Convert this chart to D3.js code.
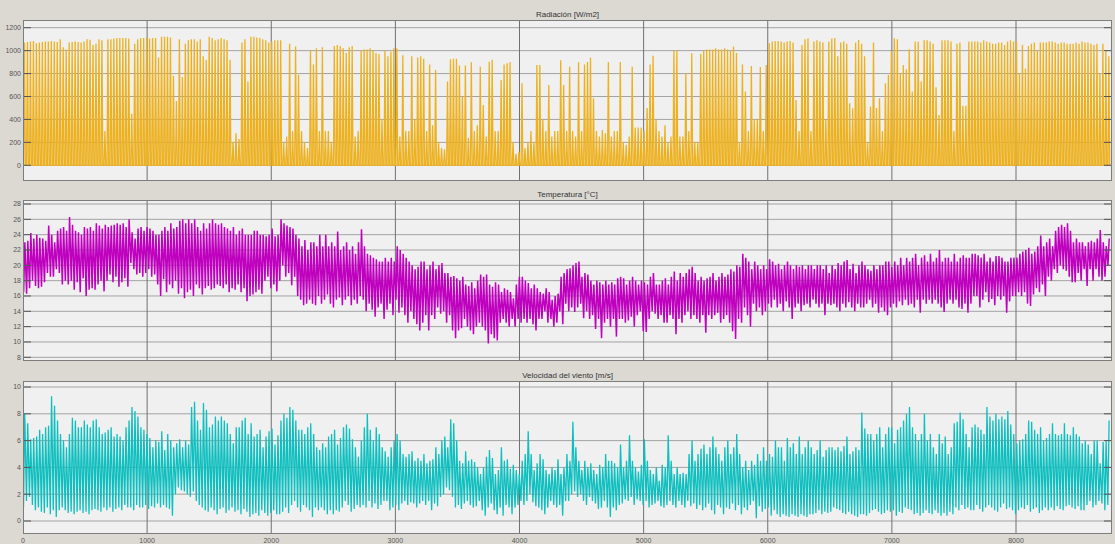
<!DOCTYPE html>
<html><head><meta charset="utf-8">
<script src="https://cdn.jsdelivr.net/npm/d3@7"></script>
<style>body{margin:0;background:#dcd9d3}svg{display:block}</style>
</head><body>
<svg id="c" width="1115" height="544"></svg>
<script>
// ---- data: daily values (365 days, hourly axis 0..8760) ----
const radiationPeak = [
1070,1075,1080,1085,1065,1070,1075,1080,1080,1085,
1080,1075,1100,1030,1010,1070,1075,1080,1075,1070,
1080,1100,1095,1050,1060,1100,1090,300,1100,1100,
1105,1110,1110,1110,1110,1105,450,1060,1100,1110,
1110,1115,1105,1110,1110,940,1120,1120,1120,1115,
780,560,1100,770,1060,1090,1100,1100,1080,1100,
950,920,1120,1110,1090,1100,1110,1100,1090,920,
200,280,230,1070,1100,730,1120,1120,1115,1110,
1100,1090,1070,1080,1090,1090,1090,200,250,1060,
300,1035,790,300,200,150,1006,880,1020,300,
1030,300,300,200,1040,1050,1040,1020,980,1030,
1040,250,300,1000,1010,1010,1020,1000,980,970,
400,1000,950,990,1020,1020,250,960,300,300,
950,400,940,950,930,300,880,350,830,200,
150,140,730,925,930,930,870,600,870,240,
898,300,350,860,526,250,904,920,300,300,
744,880,890,900,200,100,120,715,150,200,
300,200,875,875,400,300,700,250,300,300,
915,700,300,860,300,250,898,300,880,900,
940,584,300,250,308,280,900,250,300,300,
900,200,180,250,860,330,330,330,300,500,
880,956,400,300,250,350,200,250,1000,1000,
250,250,802,300,977,200,200,970,1000,1010,
1010,1010,1020,1010,1010,1020,1010,1000,1035,980,
200,880,643,300,866,400,400,857,300,875,
1064,1080,1085,1085,1080,1070,1080,1084,1070,570,
300,1049,1100,1108,300,1080,1090,1080,1070,400,
1080,1105,1110,950,1070,1080,1060,540,497,1070,
1093,1060,950,200,512,1070,500,584,300,715,
788,1000,1108,1100,800,875,837,1012,643,1080,
1080,730,1090,1090,1080,1060,680,439,1090,1090,
1090,1080,300,1060,1070,520,520,1080,1080,1080,
1080,1070,1090,1080,1070,1060,1060,1070,1070,1050,
1080,1090,1080,1080,800,1050,845,1040,1060,1070,
1000,1070,1070,1070,1080,1080,1070,1060,1070,1070,
1060,1060,1060,1070,1060,1080,1070,1070,1060,1050,
1060,800,1060,1000,950];

const tempMax = [
23,23.2,24.2,23.5,24,23.6,23.5,23.2,25.2,24,
23,24.5,24.8,25,24.5,26.3,25.3,24.5,24.3,24,
25,24.8,25,24.5,25.5,25.2,24.8,25.3,25,25.2,
25.3,25.5,25.3,25.5,25,26,24.3,23.5,24.8,25,
24.5,25,24.8,24.5,24,24,24.5,25,24.5,25.5,
24.8,25,25.8,26,25.5,26,25.5,26,25,24.5,
25.5,24.8,25.5,26,25.5,25.3,25.5,25,24.8,24.5,
25,24,24.5,24.8,24,24,24,24.5,24.5,24,
24,23.8,24,24.8,23.8,24,26,25.5,25.2,25,
24.8,24,23.5,22.5,23.3,22,23,23,22.5,24,
22.5,24,22.5,23,22.5,24.4,22,22.5,23,22,
22.5,21.5,23,24.7,22.5,21.5,21.3,21,20.8,20.5,
20.5,21,20.5,21,20.5,22.5,22,21.5,21,20.5,
20,19.5,19.8,20.5,20.5,19.5,20,20.5,19.5,20,
20.3,19,19,18.5,18.6,18.3,18,18.5,17.5,17.3,
17.8,17,18,18.8,18.5,18.8,17.5,17.2,17.8,17.5,
16.5,17,16.8,16.5,15.7,17.5,18.5,18.5,18,17.7,
17,17.5,17,16.5,16.3,17,16.5,15.5,16,16.3,
18.5,19,19.5,19.6,20,20.3,20.5,18.5,19,18.8,
18,17.5,18,17.8,17.5,18,17.5,17.8,17.5,18.3,
18.5,18.3,17.5,18,18.5,18,17.5,18,17.8,17.5,
18.5,19,17.5,17.5,18,18.3,17.5,18.5,19.2,18,
19,18.5,19,19.5,19.8,19,18,18.5,18,18.3,
18.5,19,18,18.5,19,18.5,18.8,19.5,19.2,20,
19.8,21.5,21,20.5,19.5,20.5,20,19.5,20,19.5,
20.8,20.5,20,20.2,19.5,20,20.5,20,19.5,20,
19.8,20,19.5,20,20,19.5,20,20,19.5,20,
19,20,19.5,20.3,20,20.5,20.7,19.5,20.2,19,
20,20.5,20,19.5,19.3,20,19.5,20,20,20.5,
20.5,19.8,20.5,20,21,20,21,20.5,21,21.5,
20,21,21.3,20.5,21.5,20.5,21,22,20.5,21,
21,20.5,21.5,20.5,21,21.3,21,21,21.5,21.5,
21.3,21,21.5,20.5,21,20.5,21.2,21.2,21,20.5,
20.5,21,21,21,21.5,21.8,22,22.3,21.5,21.8,
22.5,23.9,22.5,23,23.5,22.5,24.5,25,25.3,25,
25.5,24.5,23,23.5,23,23,22.5,23,23.2,23,
23.5,24.6,23,22.5,23.5];

const tempMin = [
16.5,16.3,17,18,17.3,17,17.2,17.8,19,18.5,
18.5,19.5,19,17.5,18,17.5,18,16.8,17.8,16.5,
18.3,16,16.8,17,16.8,17.5,18,16.6,18,18.8,
17.8,18.5,17.2,17.8,18.3,17.2,20.3,19.5,18.8,19,
18.5,19,19.5,18.5,18.8,17.5,16,18.2,16.5,17.5,
17,18,16.3,17,15.7,16.5,16.8,16,17.5,17,
16.2,17,17.3,16.8,17,17.5,17.3,17,17.5,16.5,
17,16.8,17.5,16.5,17,15.3,16,16.2,16.5,16.8,
16.3,18,18.5,17,17.5,16.6,18,20,18.5,19,
17.4,18.5,16,15.5,14.8,15,15.5,15,14.8,16,
15,15.5,16.2,15,14.5,15.5,15.8,14.8,15.5,16,
14.8,15.5,15,16,15.5,14,15,14.2,13.3,14.5,
15,13,14.2,15,13.5,15.5,13.8,14.5,13.5,12.5,
14,13,12.3,11.5,12.5,13.5,11.5,13.5,13,14.5,
13.7,14,12.5,13.5,11.5,10.5,11.5,11.8,13,12,
11.5,11,12,12.5,12,11.5,9.8,11,10.5,10.2,
12.5,13,12.5,12,13,12,13,12.5,13,12.5,
13,12.3,11.5,13,13,14,12.5,13,12,12.5,
14,12.3,15,14,14.5,13.9,14.5,15,13.1,14,
13,13.5,11.7,13,10.5,12.5,13,12,13,10.7,
13,13,12.5,12.8,13.3,12,13.5,14,11.4,11.3,
13,14,13.7,13,13.5,12.5,12.5,13.5,13,11,
13,12.5,13.5,14,13,13.5,13,12.5,13.5,11.2,
13.5,13,13.5,13.8,12.5,13,13.5,12.5,11.4,10.4,
13,12.5,14.5,13.5,12,15,14,14.5,13.5,14,
15,14.5,15.5,14.5,15,14,15.3,14.5,13,14.5,
15,14,14.8,15,14.5,15.5,15,14.5,15,13.5,
15,14.8,15,14.5,14,15,14.5,15.2,14.5,14,
15,14.5,14.5,15,15.5,14.5,15,13.8,14.5,14,
13.5,14.5,15,14.5,15.3,14.8,15.5,14.8,15,14.5,
15.5,13.8,15.5,15,15.5,15,15.5,15,14.5,13.9,
15,15.5,15,15.5,14.5,14.3,15,13.8,15,16,
16,14.5,15.5,16.5,15.2,15.6,14.8,16,15.5,16,
13.8,15.3,16,16,16.5,16,16.5,15,14.7,16.2,
17,16.5,17.5,16,18.5,18,19.5,19,20,19.5,
19.3,18.5,17.8,17.8,19,18,19.5,17.3,19.5,18,
19.5,18.5,18,18.5,20];

const windMax = [
8,7.3,6.1,6.2,6.3,6.8,6.5,7,7.1,9.3,
8.6,7.5,6.5,6,5.5,6.5,7.7,7.5,7,7,
7.5,7.2,7,7.5,7.6,7,6.5,6.6,6.8,7,
6.3,6.5,6.3,6,7,7.5,8.5,8.2,7.8,7,
6.8,6.5,6.2,5.5,6,5.9,6.7,5.3,6.5,6,
5.5,5.8,6.1,5.5,6,5.7,8.5,8.9,7.5,6.8,
8.8,8.3,7,7.2,7.8,7.5,7.8,7.5,7.3,6.5,
5.8,7,7,7.5,7.7,6.5,7.3,6.3,6.5,6.8,
5.5,6.3,6.7,6.9,5.7,6.4,7.5,8,7.7,8.5,
8.3,7.5,6.8,6.8,6.5,7,7.3,6.5,5.5,5.3,
5.8,5.5,6.3,6.5,6.8,5.7,6.2,7,7.2,6.9,
6.1,5.5,4.8,6,7,8,6.8,6,7,6.5,
5.5,5.2,4.8,5.5,6,6.5,6,5,4.8,5,
5.2,4.5,4.7,4.5,5,4.3,4.5,4.6,5.5,5,
6,6.3,5.5,7.6,7.3,6,4.5,4.3,5.2,4.5,
4.6,4.4,4,3.5,4,4.8,5.3,4.7,3.5,3.8,
5.5,4.5,4.6,3.9,4.2,3.8,3.5,4.5,5,6.7,
5,3.8,4.3,5,4.6,3.8,3.5,4,3.8,4.6,
3.5,4,5,4.5,7.4,5.5,4.5,3.8,4.5,4,
4.3,3.8,3.5,4.2,4,5,4.5,4.5,4.3,4,
5.7,4,4.5,6.4,4.5,4,3.7,4.2,6.1,4.5,
3.8,3.5,4,3,4.2,4,6.4,4.5,3.5,4,
3.5,3.6,3.5,5,6,4.5,5,5.4,5.7,5,
5.5,6.3,5.5,5,4.5,5.5,6,5,5.5,6.5,
5,4,4.5,3.8,4.5,4.2,5,4.5,5.5,4.5,
5,4.8,6,5.5,5.5,4.5,6.2,5.5,5.8,5,
6.3,5,5.5,6,5.5,5,5.3,6,4.8,5.3,
5.5,5.5,5.3,5.5,5.2,5.6,6.3,5,5.2,5.5,
5.3,8.1,6.9,6.5,6.5,6,6.5,7,5.5,6.5,
7,7,5.8,6.8,7,7.5,8,8.5,7,6.5,
6,6.5,8,6,6.5,5.5,5,6.5,5.8,6.3,
5,5.5,7.3,7.4,8.1,7.6,6.5,5.5,7,7.2,
7,6.8,6.5,8.5,7.8,7.5,8,7.6,7.8,7.6,
8.2,7.2,6.5,5.8,6,6.1,6.5,7.5,7.4,6.8,
6.5,7,6,6.2,6.5,7.3,6.5,6.4,6.5,7.3,
6.5,6.4,7,6.5,6.3,5.8,6,5.7,5,6,
6,4.3,5.9,6,7.5];

const windMin = [
1,1.5,1.8,1.2,0.8,1,0.7,0.6,1,0.5,
0.8,0.3,0.8,1,0.8,0.6,0.7,0.5,0.7,0.8,
0.6,0.7,0.5,0.8,0.9,0.8,0.7,1,0.8,1,
0.7,0.9,1,0.8,1.2,1,1,0.8,1.2,1,
1,1.2,0.9,1.1,1,1.3,1,1.2,1,0.9,
0.4,2,2.5,2.3,2.2,2,1.8,2.2,1.5,1.2,
1,0.8,0.7,1,0.8,0.5,0.9,1,0.6,0.8,
1,0.7,0.8,0.5,0.9,0.7,0.3,0.5,0.6,0.4,
0.8,0.6,0.4,0.6,0.8,0.5,0.5,0.7,1,0.6,
1.2,1.5,1,0.7,1.2,1,0.8,0.3,1,0.8,
1,0.8,0.5,0.8,0.5,0.8,0.7,1,1.5,1.2,
0.7,0.9,1.2,1,1.2,1,1.5,1,1.3,0.9,
1.2,1.5,1.5,0.8,1,1.2,0.8,1.3,1.5,1.2,
1.4,1.3,1,1.3,1.5,1.2,1.5,0.8,1.3,1.1,
1.8,2,2.5,2.3,1.8,1,1.2,0.9,1.3,1.5,
1.2,1,1.1,1.5,0.8,0.4,1,1.3,0.8,0.5,
1,0.4,1.2,1,0.5,1,1.2,1.5,1.2,1.5,
2,1.4,1.1,1,0.8,0.5,1,1.5,1.2,1,
1.2,0.4,1.5,1.5,2,2.2,1.8,2,1.5,1.2,
1.8,1.5,1.3,0.9,1,1.5,1,0.3,1,0.8,
1.2,1.3,1.6,1.5,1.8,1.2,1.6,1.5,1.2,1.5,
1,1.2,1.3,1.5,1.1,1,1.2,1.5,1.2,1,
1.5,1.2,1,1.5,1.1,1.3,0.9,1.2,0.8,1,
1.3,0.8,0.5,1.2,1,0.5,1,0.9,1.3,0.8,
1.2,0.5,1,0.8,1.2,1.5,0.2,1.1,0.7,0.9,
1,0.4,0.8,0.5,0.3,0.5,0.4,0.3,0.5,0.4,
0.3,0.5,0.4,0.3,0.5,0.5,0.6,0.8,0.5,0.7,
0.6,0.7,1,0.9,0.8,0.6,0.5,0.7,0.5,0.4,
0.3,0.5,0.5,0.4,0.6,0.8,0.9,0.7,0.5,0.6,
0.8,0.7,0.8,0.4,0.7,0.6,1,0.9,0.8,0.5,
0.6,0.4,0.6,0.8,0.6,0.5,0.8,0.6,0.4,0.6,
0.4,0.7,0.5,1,0.8,1.2,0.9,1,0.8,0.8,
1.2,0.9,0.7,1,1.2,1,0.8,0.7,1,1.3,
0.9,1,0.8,0.5,0.8,1,0.9,1.2,0.7,0.9,
1,0.6,0.8,1,0.8,1,0.8,1.1,0.9,0.8,
1.1,1.2,1,0.9,1.1,0.8,0.8,1.2,1.5,1,
1.2,1.5,1.3,0.8,1.2];

const xTicks = [0,1000,2000,3000,4000,5000,6000,7000,8000];
const radTicks = [0,200,400,600,800,1000,1200];
const tempTicks = [8,10,12,14,16,18,20,22,24,26,28];
const windTicks = [0,2,4,6,8,10];
const titles = ["Radiación [W/m2]","Temperatura [°C]","Velocidad del viento [m/s]"];

// ---- drawing ----
const svg = d3.select("#c");
const W = 1115, H = 544;
svg.append("rect").attr("width",W).attr("height",H).attr("fill","#dcd9d3");

const left = 23, right = 1112;
const x = d3.scaleLinear().domain([0,8000]).range([23,1016]);
const font = "'Liberation Sans', Arial, sans-serif";

// series -> point lists (one peak per day; diurnal position of min/max)
const radPts = [];
radiationPeak.forEach((p,d)=>{ radPts.push([d*24+5,0],[d*24+12,p],[d*24+19,0]); });
const tempPts = [];
tempMin.forEach((m,d)=>{ tempPts.push([d*24+5,m],[d*24+15,tempMax[d]]); });
const windPts = [];
windMin.forEach((m,d)=>{ windPts.push([d*24+4,m],[d*24+14,windMax[d]]); });

const panels = [
  {title:titles[0], top:20, bottom:181, dom:[0,1200], rng:[165.3,27.7], ticks:radTicks, titleY:14.5, color:"#EDB120", sw:1.3, pts:radPts},
  {title:titles[1], top:200, bottom:361, dom:[8,28], rng:[357.3,204], ticks:tempTicks, titleY:194.5, color:"#BF00BF", sw:1.5, pts:tempPts},
  {title:titles[2], top:381, bottom:534, dom:[0,10], rng:[521,387], ticks:windTicks, titleY:375.5, color:"#0FBFBF", sw:1.3, pts:windPts}
];

panels.forEach((P,i)=>{
  const y = d3.scaleLinear().domain(P.dom).range(P.rng);
  const g = svg.append("g");
  g.append("rect").attr("x",left).attr("y",P.top).attr("width",right-left).attr("height",P.bottom-P.top)
    .attr("fill","#f0f0f0");
  g.selectAll(".hg").data(P.ticks).enter().append("line")
    .attr("x1",left).attr("x2",right).attr("y1",d=>y(d)).attr("y2",d=>y(d))
    .attr("stroke","#a3a3a3").attr("stroke-width",1);
  g.selectAll(".vg").data(xTicks.slice(1)).enter().append("line")
    .attr("x1",d=>x(d)).attr("x2",d=>x(d)).attr("y1",P.top).attr("y2",P.bottom)
    .attr("stroke","#707070").attr("stroke-width",1);
  const clipId = "clip"+i;
  svg.append("clipPath").attr("id",clipId).append("rect")
    .attr("x",left).attr("y",P.top).attr("width",right-left).attr("height",P.bottom-P.top);
  const line = d3.line().x(p=>x(p[0])).y(p=>y(p[1]));
  g.append("path").attr("d",line(P.pts)).attr("fill","none").attr("stroke",P.color)
    .attr("stroke-width",P.sw).attr("stroke-linejoin","miter").attr("clip-path",`url(#${clipId})`);
  g.selectAll(".tl").data(P.ticks).enter().append("line")
    .attr("x1",left).attr("x2",left+8).attr("y1",d=>y(d)).attr("y2",d=>y(d))
    .attr("stroke","#555").attr("stroke-width",1);
  g.selectAll(".tr").data(P.ticks).enter().append("line")
    .attr("x1",right-8).attr("x2",right).attr("y1",d=>y(d)).attr("y2",d=>y(d))
    .attr("stroke","#555").attr("stroke-width",1);
  g.append("rect").attr("x",left+0.5).attr("y",P.top+0.5).attr("width",right-left-1).attr("height",P.bottom-P.top-1)
    .attr("fill","none").attr("stroke","#7d7d7d").attr("stroke-width",1);
  g.selectAll(".yl").data(P.ticks).enter().append("text")
    .attr("x",21).attr("y",d=>y(d)).attr("dy","0.35em").attr("text-anchor","end")
    .attr("font-family",font).attr("font-size",7).attr("fill","#555").text(d=>d);
  g.append("text").attr("x",(left+right)/2).attr("y",P.titleY).attr("dy","0.35em")
    .attr("text-anchor","middle").attr("font-family",font).attr("font-size",8)
    .attr("fill","#333").text(P.title);
  if(i===2){
    g.selectAll(".xl").data(xTicks).enter().append("text")
      .attr("x",d=>x(d)).attr("y",541).attr("dy","0.35em").attr("text-anchor","middle")
      .attr("font-family",font).attr("font-size",7).attr("fill","#555").text(d=>d);
  }
});
</script>
</body></html>
